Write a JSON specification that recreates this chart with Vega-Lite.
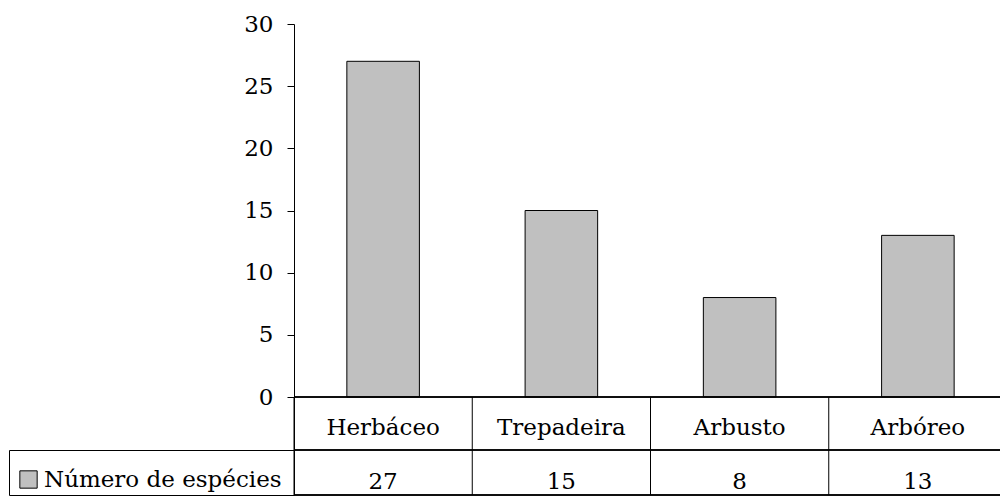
{
  "$schema": "https://vega.github.io/schema/vega-lite/v6.json",
  "width": 706,
  "height": 471,
  "autosize": {"type": "none"},
  "padding": {"left": 294, "top": 24, "right": 0, "bottom": 3},
  "background": "white",
  "config": {"view": {"stroke": null}, "font": "DejaVu Serif"},
  "data": {
    "values": [
      {"tipo": "Herbáceo", "especies": 27, "serie": "Número de espécies"},
      {"tipo": "Trepadeira", "especies": 15, "serie": "Número de espécies"},
      {"tipo": "Arbusto", "especies": 8, "serie": "Número de espécies"},
      {"tipo": "Arbóreo", "especies": 13, "serie": "Número de espécies"}
    ]
  },
  "layer": [
    {
      "layer": [
        {
          "mark": {"type": "bar", "width": {"band": 0.407}, "stroke": "black", "strokeWidth": 1},
          "encoding": {
            "x": {"field": "tipo", "type": "nominal", "sort": null,
                  "scale": {"type": "band", "range": [0, 713], "paddingInner": 0, "paddingOuter": 0},
                  "axis": null},
            "y": {"field": "especies", "type": "quantitative",
                  "scale": {"domain": [-7.882, 30], "nice": false},
                  "axis": {
                    "values": [0, 5, 10, 15, 20, 25, 30, -4.263, -7.882],
                    "title": null, "grid": false,
                    "domainColor": "black", "tickColor": "black",
                    "tickSize": {"condition": {"test": "datum.value < 0", "value": 285}, "value": 7},
                    "labelExpr": "datum.value < 0 ? '' : datum.label",
                    "labelFont": "DejaVu Serif", "labelFontSize": 23, "labelColor": "black",
                    "labelPadding": 14, "labelOverlap": false
                  }},
            "fill": {"field": "serie", "type": "nominal", "scale": {"range": ["#C0C0C0"]},
                     "legend": {
                       "title": null, "orient": "none", "legendX": -277, "legendY": 444,
                       "symbolType": "square", "symbolSize": 300,
                       "symbolStrokeColor": "black", "symbolStrokeWidth": 1, "symbolOpacity": 1,
                       "labelFont": "DejaVu Serif", "labelFontSize": 23, "labelColor": "black",
                       "labelOffset": 4, "padding": 0, "labelLimit": 400
                     }}
          }
        },
        {
          "mark": {"type": "rule", "color": "black", "strokeWidth": 1},
          "encoding": {"y": {"datum": 0}}
        },
        {
          "mark": {"type": "rule", "color": "black", "strokeWidth": 1},
          "encoding": {
            "x": {"field": "tipo", "type": "nominal", "sort": null, "bandPosition": 0},
            "y": {"datum": 0},
            "y2": {"datum": -7.882}
          }
        },
        {
          "mark": {"type": "text", "font": "DejaVu Serif", "fontSize": 23, "baseline": "alphabetic", "color": "black"},
          "encoding": {
            "x": {"field": "tipo", "type": "nominal", "sort": null},
            "y": {"datum": -3.056},
            "text": {"field": "tipo"}
          }
        },
        {
          "mark": {"type": "text", "font": "DejaVu Serif", "fontSize": 23, "baseline": "alphabetic", "color": "black"},
          "encoding": {
            "x": {"field": "tipo", "type": "nominal", "sort": null},
            "y": {"datum": -7.4},
            "text": {"field": "especies"}
          }
        }
      ]
    },
    {
      "layer": [
        {
          "mark": {"type": "rule", "color": "black", "strokeWidth": 1},
          "encoding": {
            "y": {"datum": -4.263, "type": "quantitative",
                  "scale": {"domain": [-7.882, -4.263], "range": [471, 426], "nice": false, "zero": false},
                  "axis": {"orient": "left", "offset": 285, "ticks": false, "labels": false,
                           "title": null, "grid": false, "domainColor": "black"}}
          }
        },
        {
          "mark": {"type": "rule", "color": "black", "strokeWidth": 1},
          "encoding": {"y": {"datum": -7.882, "type": "quantitative"}}
        }
      ]
    }
  ],
  "resolve": {"scale": {"y": "independent"}, "axis": {"y": "independent"}}
}
